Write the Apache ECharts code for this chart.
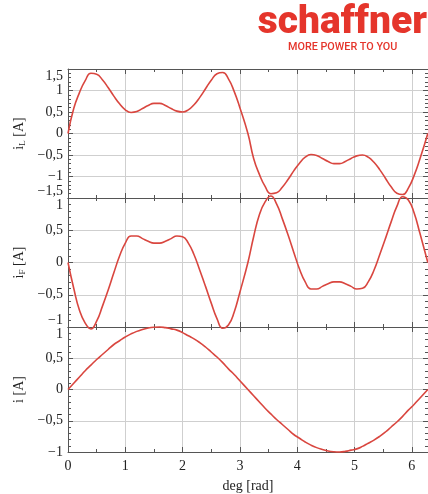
<!DOCTYPE html>
<html>
<head>
<meta charset="utf-8">
<title>i_L / i_F / i</title>
<script src="https://cdn.jsdelivr.net/npm/echarts@6.0.0/dist/echarts.min.js"></script>
<style>
html, body { margin: 0; padding: 0; background: #fff; }
#chart { width: 428px; height: 494px; }
</style>
</head>
<body>
<div id="chart"></div>
<script>
// angle [rad]
var deg = [0, 0.1, 0.2, 0.3, 0.4, 0.5, 0.6, 0.7, 0.8, 0.9, 1, 1.1, 1.2, 1.3, 1.4, 1.5,
    1.6, 1.7, 1.8, 1.9, 2, 2.1, 2.2, 2.3, 2.4, 2.5, 2.6, 2.7, 2.8, 2.9, 3,
    3.14, 3.24, 3.34, 3.44, 3.54, 3.64, 3.74, 3.84, 3.94, 4.04, 4.14, 4.24, 4.34, 4.44, 4.54, 4.64,
    4.74, 4.84, 4.94, 5.04, 5.14, 5.24, 5.34, 5.44, 5.54, 5.64, 5.74, 5.84, 5.94, 6.04, 6.14,
    6.28];

// i_L [A]
var iL = [0, 0.58, 0.95, 1.23, 1.40, 1.38, 1.25, 1.07, 0.87, 0.69, 0.55, 0.49, 0.51, 0.58, 0.65, 0.70,
    0.70, 0.65, 0.58, 0.52, 0.50, 0.55, 0.67, 0.84, 1.04, 1.24, 1.39, 1.42, 1.27, 0.98, 0.60,
    0, -0.58, -0.95, -1.23, -1.40, -1.38, -1.25, -1.07, -0.87, -0.69, -0.55, -0.49, -0.51, -0.58, -0.65, -0.70,
    -0.70, -0.65, -0.58, -0.52, -0.50, -0.55, -0.67, -0.84, -1.04, -1.24, -1.39, -1.42, -1.27, -0.98, -0.60,
    0];

// i_F [A]
var iF = [0, -0.40, -0.74, -0.94, -1.03, -0.91, -0.68, -0.43, -0.16, 0.10, 0.30, 0.41, 0.41, 0.37, 0.33, 0.30,
    0.30, 0.33, 0.37, 0.41, 0.40, 0.30, 0.12, -0.12, -0.37, -0.63, -0.87, -1.02, -0.97, -0.77, -0.46,
    0, 0.40, 0.74, 0.94, 1.03, 0.91, 0.68, 0.43, 0.16, -0.10, -0.30, -0.41, -0.41, -0.37, -0.33, -0.30,
    -0.30, -0.33, -0.37, -0.41, -0.40, -0.30, -0.12, 0.12, 0.37, 0.63, 0.87, 1.02, 0.97, 0.77, 0.46,
    0];

// i [A]
var iS = [0, 0.10, 0.20, 0.30, 0.39, 0.48, 0.56, 0.64, 0.72, 0.78, 0.84, 0.89, 0.93, 0.96, 0.985, 0.997,
    1.00, 0.99, 0.97, 0.95, 0.91, 0.86, 0.81, 0.75, 0.68, 0.60, 0.52, 0.43, 0.33, 0.24, 0.14,
    0, -0.10, -0.20, -0.30, -0.39, -0.48, -0.56, -0.64, -0.72, -0.78, -0.84, -0.89, -0.93, -0.96, -0.985, -0.997,
    -1.00, -0.99, -0.97, -0.95, -0.91, -0.86, -0.81, -0.75, -0.68, -0.60, -0.52, -0.43, -0.33, -0.24, -0.14,
    0];

var xTicks = [0, 1, 2, 3, 4, 5, 6];
var panelRanges = [[-1.5, 1.5], [-1, 1], [-1, 1]];
var panelNames = ['{i|i}{s|L}{i| [A]}', '{i|i}{s|F}{i| [A]}', '{i|i [A]}'];

var serif = '"Liberation Serif", "DejaVu Serif", serif';
var lineColor = '#d9463f';
var frameColor = '#555';
var gridColor = '#cfcfcf';

function pairs(ys) {
    return deg.map(function (x, k) { return [x, ys[k]]; });
}

function fmt(v) {
    return String(v).replace('.', ',').replace('-', '\u2212');
}

var grids = [
    {left: 68, top: 69, width: 360, height: 129},
    {left: 68, top: 198, width: 360, height: 129},
    {left: 68, top: 327, width: 360, height: 128}
];
var minAlign = ['bottom', 'bottom', 'middle'];

var frameLine = {show: true, onZero: false, lineStyle: {color: frameColor, width: 1}};
var majorTick = {show: true, inside: true, length: 5, lineStyle: {color: frameColor}};

var xAxes = [];
var yAxes = [];
for (var g = 0; g < 3; g++) {
    var last = g == 2;
    // bottom axis
    xAxes.push({
        type: 'value', gridIndex: g, position: 'bottom',
        min: 0, max: 6.2832, interval: 1,
        name: last ? 'deg [rad]' : '',
        nameLocation: 'middle', nameGap: 27,
        nameTextStyle: {fontFamily: serif, fontSize: 14, color: '#222'},
        axisLine: frameLine,
        axisTick: majorTick,
        minorTick: {show: true, splitNumber: 2, length: 3, lineStyle: {color: frameColor}},
        axisLabel: {
            show: last, showMaxLabel: false, margin: 7,
            fontFamily: serif, fontSize: 14, color: '#222',
            formatter: function (v) { return xTicks.indexOf(v) >= 0 ? String(v) : ''; }
        },
        splitLine: {show: true, lineStyle: {color: gridColor, width: 1}}
    });
    // mirrored top axis
    xAxes.push({
        type: 'value', gridIndex: g, position: 'top',
        min: 0, max: 6.2832, interval: 1,
        axisLine: frameLine,
        axisTick: majorTick,
        minorTick: {show: true, splitNumber: 2, length: 3, lineStyle: {color: frameColor}},
        axisLabel: {show: false},
        splitLine: {show: false}
    });
    // left axis
    yAxes.push({
        type: 'value', gridIndex: g, position: 'left',
        min: panelRanges[g][0], max: panelRanges[g][1], interval: 0.5,
        name: panelNames[g], nameLocation: 'middle', nameGap: 40, nameRotate: 90,
        nameTextStyle: {
            rich: {
                i: {fontFamily: serif, fontSize: 14, color: '#222'},
                s: {fontFamily: serif, fontSize: 9, color: '#222', verticalAlign: 'bottom', padding: [6, 0, 0, 0]}
            }
        },
        axisLine: frameLine,
        axisTick: majorTick,
        minorTick: {show: true, splitNumber: 5, length: 3, lineStyle: {color: frameColor}},
        axisLabel: {
            margin: 5, fontFamily: serif, fontSize: 14, color: '#222',
            verticalAlignMaxLabel: 'top',
            verticalAlignMinLabel: minAlign[g],
            formatter: fmt
        },
        splitLine: {show: true, lineStyle: {color: gridColor, width: 1}}
    });
    // mirrored right axis
    yAxes.push({
        type: 'value', gridIndex: g, position: 'right',
        min: panelRanges[g][0], max: panelRanges[g][1], interval: 0.5,
        axisLine: frameLine,
        axisTick: majorTick,
        minorTick: {show: true, splitNumber: 5, length: 3, lineStyle: {color: frameColor}},
        axisLabel: {show: false},
        splitLine: {show: false}
    });
}

function curve(ys, g) {
    return {
        type: 'line',
        xAxisIndex: g * 2,
        yAxisIndex: g * 2,
        data: pairs(ys),
        smooth: 0.5,
        showSymbol: false,
        clip: false,
        lineStyle: {color: lineColor, width: 1.6}
    };
}

var myChart = echarts.init(document.getElementById('chart'));
var option = {
    backgroundColor: '#fff',
    animation: false,
    grid: grids,
    xAxis: xAxes,
    yAxis: yAxes,
    graphic: [
        {
            type: 'text', right: 1, top: 4,
            style: {text: 'schaffner', fill: '#e5352b', font: '900 39px Roboto'}
        },
        {
            type: 'text', left: 288, top: 42,
            style: {text: 'MORE POWER TO YOU', fill: '#e5352b', font: '500 10.8px Roboto'}
        }
    ],
    series: [curve(iL, 0), curve(iF, 1), curve(iS, 2)]
};
myChart.setOption(option);
</script>
</body>
</html>
